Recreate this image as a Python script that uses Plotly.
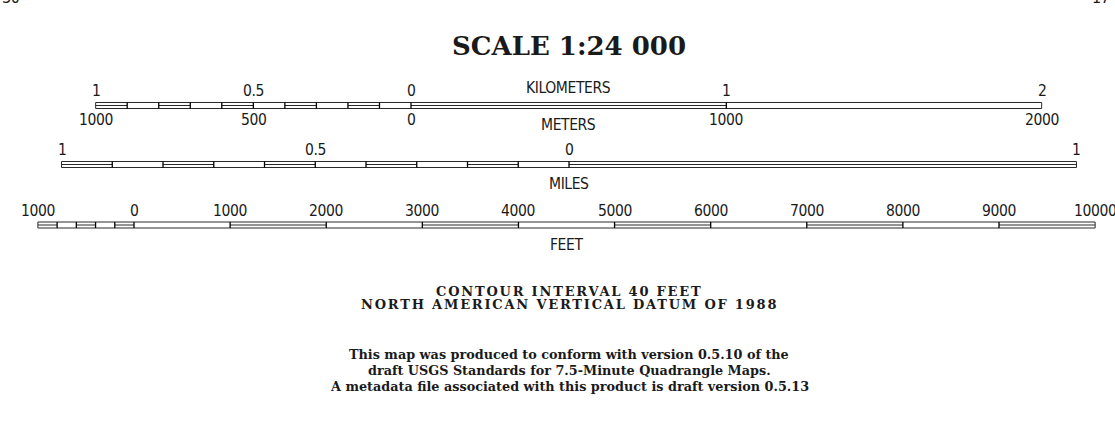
import plotly.graph_objects as go

# ---------------- data ----------------
km_div = [-1.0, -0.9, -0.8, -0.7, -0.6, -0.5, -0.4, -0.3, -0.2, -0.1, 0.0, 1.0, 2.0]
km_lab_pos = [-1, -0.5, 0, 1, 2]
km_lab_txt = ["1", "0.5", "0", "1", "2"]
m_lab_pos = [-1000, -500, 0, 1000, 2000]
m_lab_txt = ["1000", "500", "0", "1000", "2000"]

mi_div = [-1.0, -0.9, -0.8, -0.7, -0.6, -0.5, -0.4, -0.3, -0.2, -0.1, 0.0, 1.0]
mi_lab_pos = [-1, -0.5, 0, 1]
mi_lab_txt = ["1", "0.5", "0", "1"]

ft_div = [-1000, -800, -600, -400, -200, 0, 1000, 2000, 3000, 4000, 5000,
          6000, 7000, 8000, 9000, 10000]
ft_lab_pos = [-1000, 0, 1000, 2000, 3000, 4000, 5000, 6000, 7000, 8000, 9000, 10000]
ft_lab_txt = ["1000", "0", "1000", "2000", "3000", "4000", "5000", "6000",
              "7000", "8000", "9000", "10000"]

title_txt = "SCALE 1:24 000"
note1 = ["CONTOUR INTERVAL 40 FEET", "NORTH AMERICAN VERTICAL DATUM OF 1988"]
note2 = ["This map was produced to conform with version 0.5.10 of the",
         "draft USGS Standards for 7.5-Minute Quadrangle Maps.",
         "A metadata file associated with this product is draft version 0.5.13"]
corner_txt = ["30", "17"]

# ---------------- layout constants ----------------
W, H = 1115, 446
PX_PER_KM = 315.33
KM_PER_MI = 1.609344
KM_PER_FT = 0.0003048
ZERO_KM, ZERO_MI, ZERO_FT = 411, 569, 134

SANS = "Liberation Sans Narrow, DejaVu Sans Condensed, Arial Narrow, DejaVu Sans, sans-serif"
SERIF = "DejaVu Serif, serif"
INK = "#1a1a1a"
LINE = "#2a2a2a"


def axis_range(zero_px, px_per_unit):
    return [(0 - zero_px) / px_per_unit, (W - zero_px) / px_per_unit]


fig = go.Figure()
# invisible anchor traces so every axis exists
for xa in ["x", "x2", "x3"]:
    fig.add_trace(go.Scatter(x=[0], y=[-50], xaxis=xa, yaxis="y", mode="markers",
                             marker=dict(opacity=0), hoverinfo="skip", showlegend=False))

shapes = []
annos = []


def bar(divs, xref, y0, y1):
    ym = (y0 + y1) / 2
    shapes.append(dict(type="rect", xref=xref, yref="y", x0=divs[0], x1=divs[-1],
                       y0=y0, y1=y1, line=dict(color=LINE, width=1)))
    for i in range(len(divs) - 1):
        if i % 2 == 0:
            shapes.append(dict(type="line", xref=xref, yref="y", x0=divs[i], x1=divs[i + 1],
                               y0=ym, y1=ym, line=dict(color=LINE, width=1)))
    for d in divs[1:-1]:
        shapes.append(dict(type="line", xref=xref, yref="y", x0=d, x1=d,
                           y0=y0, y1=y1, line=dict(color="#000", width=1.3)))


def label(x, y, txt, xref, size=15.5, font=SANS, bold=False, spacing=-0.4,
          color=INK, yref="y"):
    t = '<span style="letter-spacing:%spx">%s</span>' % (spacing, txt)
    if bold:
        t = "<b>%s</b>" % t
    annos.append(dict(x=x, y=y, xref=xref, yref=yref, text=t,
                      showarrow=False, xanchor="center", yanchor="middle",
                      font=dict(family=font, size=size, color=color)))


# Kilometers / meters bar
bar(km_div, "x", 102.5, 108.5)
for p, t in zip(km_lab_pos, km_lab_txt):
    label(p, 91, t, "x")
for p, t in zip(m_lab_pos, m_lab_txt):
    label(p / 1000.0, 119.5, t, "x")
label(0.5, 88, "KILOMETERS", "x")
label(0.5, 124.5, "METERS", "x")

# Miles bar
bar(mi_div, "x2", 161.5, 167.5)
for p, t in zip(mi_lab_pos, mi_lab_txt):
    label(p, 150, t, "x2")
label(0, 184, "MILES", "x2")

# Feet bar
bar(ft_div, "x3", 222, 228)
for p, t in zip(ft_lab_pos, ft_lab_txt):
    label(p, 211, t, "x3")
label(4500, 245, "FEET", "x3")

# Title and notes, centred on the scale bars
CX = 569 / W
label(CX, 46, title_txt, "paper", size=26, font=SERIF, bold=True, spacing=0)
for i, t in enumerate(note1):
    label(CX, 291 + 13 * i, t, "paper", size=13, font=SERIF, bold=True, spacing=1.8)
for i, t in enumerate(note2):
    label(CX, 354 + 16 * i, t, "paper", size=12.8, font=SERIF, bold=True, spacing=0)

# clipped page-number fragments at the top corners (only their feet show)
label(11 / W, 1 + 2.0 / H, corner_txt[0], "paper", size=16, yref="paper")
label(1101 / W, 1 + 2.0 / H, corner_txt[1], "paper", size=16, yref="paper")

fig.update_layout(
    width=W, height=H,
    margin=dict(l=0, r=0, t=0, b=0),
    paper_bgcolor="white", plot_bgcolor="white",
    showlegend=False,
    xaxis=dict(range=axis_range(ZERO_KM, PX_PER_KM), visible=False, fixedrange=True),
    xaxis2=dict(range=axis_range(ZERO_MI, PX_PER_KM * KM_PER_MI), visible=False,
                overlaying="x", fixedrange=True),
    xaxis3=dict(range=axis_range(ZERO_FT, PX_PER_KM * KM_PER_FT), visible=False,
                overlaying="x", fixedrange=True),
    yaxis=dict(range=[H, 0], visible=False, fixedrange=True),
    shapes=shapes,
    annotations=annos,
)

fig.write_html("out.html", config={"displayModeBar": False},
               post_script="document.body.style.margin='0';document.body.style.overflow='hidden';")
